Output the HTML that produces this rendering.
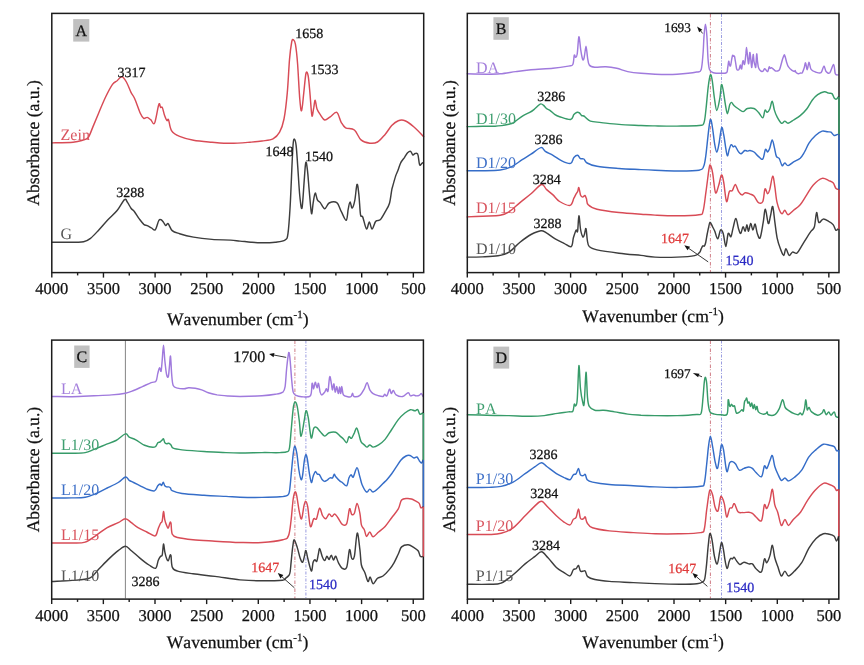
<!DOCTYPE html><html><head><meta charset="utf-8"><style>html,body{margin:0;padding:0;background:#fff;}svg{display:block;filter:blur(0.35px)}text{font-kerning:none;text-rendering:geometricPrecision}</style></head><body>
<svg width="864" height="665" viewBox="0 0 864 665" font-family="'Liberation Serif', 'Times New Roman', serif">
<rect width="864" height="665" fill="#fff"/>
<path d="M52.3,142.9 C55.8,142.8 68.1,142.6 73.1,142.2 C78.1,141.8 79.9,141.1 82.4,140.3 C84.9,139.5 86.5,139.7 88.2,137.5 C89.9,135.3 91.1,131.2 92.8,127.1 C94.5,123.0 96.5,118.2 98.6,113.2 C100.7,108.2 103.3,101.8 105.6,97.0 C107.9,92.2 110.6,87.0 112.5,84.3 C114.4,81.6 115.5,82.1 117.1,80.8 C118.6,79.5 120.2,76.5 121.8,76.7 C123.3,76.9 124.9,79.4 126.4,82.0 C127.9,84.6 129.7,89.7 131.0,92.4 C132.3,95.1 132.9,94.7 134.5,98.2 C136.1,101.7 138.8,109.9 140.3,113.2 C141.8,116.5 142.5,117.6 143.7,118.3 C144.8,119.0 146.0,117.2 147.2,117.4 C148.4,117.6 149.5,118.8 150.7,119.7 C151.9,120.6 153.2,125.5 154.6,123.0 C155.9,120.5 157.8,107.0 158.8,104.4 C159.8,101.8 160.0,107.0 160.6,107.5 C161.2,108.0 161.6,106.2 162.3,107.5 C163.0,108.8 163.8,113.4 164.6,115.6 C165.4,117.8 166.2,119.9 166.9,120.6 C167.6,121.3 167.7,118.0 168.5,119.7 C169.3,121.4 169.7,127.8 171.5,130.6 C173.3,133.4 175.9,134.8 179.6,136.4 C183.3,138.0 188.1,139.3 193.5,140.3 C198.9,141.3 205.8,141.7 212.0,142.2 C218.2,142.7 224.3,143.3 230.6,143.3 C236.9,143.3 244.8,142.6 250.0,142.2 C255.2,141.8 258.2,141.6 262.0,141.0 C265.8,140.4 270.1,140.3 273.0,138.8 C275.9,137.3 277.8,135.5 279.6,132.2 C281.4,128.9 282.7,125.6 284.0,119.0 C285.3,112.4 286.4,102.5 287.3,92.6 C288.2,82.7 288.8,68.0 289.5,59.6 C290.2,51.2 291.1,45.3 291.7,42.0 C292.3,38.7 292.8,39.4 293.4,39.8 C294.0,40.2 294.7,40.2 295.4,44.2 C296.1,48.2 296.9,54.8 297.6,64.0 C298.3,73.2 299.1,91.4 299.8,99.2 C300.5,107.0 300.9,111.7 301.6,110.6 C302.3,109.5 303.1,98.8 303.8,92.6 C304.5,86.4 305.3,76.0 306.0,73.2 C306.7,70.4 307.6,72.8 308.2,76.0 C308.8,79.2 309.3,86.0 309.9,92.6 C310.5,99.2 311.3,113.1 311.9,115.7 C312.5,118.3 313.1,110.6 313.7,108.0 C314.2,105.4 314.6,100.1 315.2,100.3 C315.8,100.5 316.1,106.6 317.0,109.0 C317.9,111.4 319.0,112.8 320.3,114.6 C321.6,116.4 323.1,119.6 324.7,120.0 C326.3,120.4 328.2,118.1 330.2,116.8 C332.2,115.5 335.0,111.5 336.8,112.4 C338.6,113.3 339.7,119.7 341.2,122.3 C342.7,124.9 343.4,126.5 345.6,127.8 C347.8,129.1 351.8,128.0 354.4,130.0 C357.0,132.0 358.4,137.7 361.0,139.9 C363.6,142.1 367.1,142.8 369.8,143.2 C372.6,143.5 374.9,143.5 377.5,142.0 C380.1,140.5 382.7,137.1 385.1,134.4 C387.5,131.7 389.5,127.9 391.7,125.6 C393.9,123.3 396.1,121.5 398.3,120.7 C400.5,119.9 402.4,119.7 405.0,120.7 C407.6,121.7 410.6,124.1 413.7,126.7 C416.8,129.3 422.0,134.9 423.6,136.6" fill="none" stroke="#d84b56" stroke-width="1.45" stroke-linejoin="round" stroke-linecap="round"/>
<path d="M52.3,242.2 C55.8,242.2 67.9,242.3 73.1,242.2 C78.3,242.1 80.7,242.5 83.6,241.8 C86.5,241.2 88.0,240.2 90.5,238.3 C93.0,236.4 95.7,233.3 98.6,230.2 C101.5,227.1 104.8,223.1 107.9,219.8 C111.0,216.5 114.3,213.9 117.1,210.5 C119.9,207.1 122.8,200.9 124.5,199.6 C126.2,198.2 126.4,201.0 127.5,202.4 C128.6,203.8 129.8,206.6 131.0,208.2 C132.2,209.8 133.2,210.0 134.5,211.7 C135.8,213.4 137.5,216.5 139.1,218.6 C140.7,220.7 142.5,223.2 143.8,224.4 C145.2,225.6 145.9,225.0 147.2,225.6 C148.5,226.2 150.1,227.2 151.4,227.9 C152.8,228.6 154.1,230.9 155.3,229.7 C156.5,228.5 157.8,222.2 158.8,220.5 C159.8,218.8 160.3,219.5 161.1,219.8 C161.9,220.1 162.6,221.1 163.4,222.1 C164.2,223.1 164.9,225.3 165.7,225.6 C166.5,225.9 167.0,222.9 168.1,223.7 C169.2,224.5 170.3,228.9 172.2,230.6 C174.1,232.3 176.0,232.6 179.6,233.7 C183.2,234.8 188.1,236.1 193.5,237.1 C198.9,238.1 205.8,238.9 212.0,239.4 C218.2,239.9 225.9,239.8 230.6,240.1 C235.3,240.4 236.6,240.8 240.0,241.1 C243.4,241.4 247.3,241.9 251.0,242.2 C254.7,242.5 258.0,242.8 262.0,242.8 C266.0,242.8 271.3,242.7 275.2,242.2 C279.1,241.7 283.0,241.5 285.1,240.0 C287.2,238.5 287.2,238.9 288.0,233.4 C288.8,227.9 289.4,218.7 290.1,207.0 C290.8,195.3 291.6,173.6 292.1,163.0 C292.6,152.4 292.8,147.2 293.2,143.2 C293.6,139.2 294.0,138.8 294.5,139.2 C295.0,139.6 295.6,140.7 296.1,145.4 C296.7,150.1 297.2,159.0 297.8,167.4 C298.4,175.8 299.1,189.2 299.8,196.0 C300.5,202.8 301.3,210.7 302.0,208.1 C302.7,205.5 303.6,188.2 304.2,180.6 C304.8,173.0 305.2,164.2 305.8,162.5 C306.4,160.8 306.9,165.8 307.5,170.7 C308.1,175.5 308.6,184.4 309.3,191.6 C310.0,198.8 310.9,211.8 311.5,213.6 C312.1,215.4 312.6,206.0 313.2,202.6 C313.8,199.2 314.5,193.5 315.2,193.1 C315.9,192.7 316.5,198.3 317.4,199.9 C318.2,201.5 319.1,201.1 320.3,202.6 C321.5,204.1 323.2,208.6 324.7,208.7 C326.2,208.8 327.1,204.0 329.1,203.0 C331.1,202.0 334.8,201.2 336.8,202.6 C338.8,204.0 339.6,208.5 341.2,211.4 C342.8,214.3 345.0,220.6 346.2,220.2 C347.4,219.8 347.6,212.2 348.2,209.2 C348.8,206.2 349.3,202.3 350.0,202.1 C350.7,201.9 351.4,208.4 352.2,208.1 C353.0,207.8 354.0,204.3 354.8,200.4 C355.6,196.5 356.3,185.6 357.0,184.5 C357.7,183.4 358.2,188.8 358.8,193.8 C359.4,198.8 359.9,210.8 360.5,214.7 C361.1,218.5 361.7,214.5 362.7,216.9 C363.7,219.3 365.4,228.2 366.5,229.0 C367.6,229.8 368.4,221.9 369.3,221.9 C370.2,221.9 371.0,229.0 372.0,229.0 C373.0,229.0 374.4,223.4 375.3,222.0 C376.2,220.6 376.3,221.0 377.2,220.6 C378.1,220.2 379.2,220.9 380.5,219.5 C381.8,218.1 383.5,214.9 385.0,212.2 C386.5,209.5 388.4,207.0 389.5,203.2 C390.6,199.4 391.2,192.5 391.8,189.6 C392.4,186.7 392.2,188.2 392.8,185.9 C393.4,183.7 394.8,178.6 395.6,176.1 C396.4,173.6 396.9,173.1 397.8,170.8 C398.7,168.6 399.7,164.8 400.8,162.6 C401.9,160.3 403.5,158.9 404.6,157.3 C405.7,155.7 406.6,153.8 407.6,152.8 C408.6,151.8 409.7,150.9 410.6,151.3 C411.5,151.7 412.1,154.6 412.9,155.0 C413.6,155.4 414.3,153.6 415.1,153.5 C415.9,153.4 417.1,152.4 417.8,154.3 C418.6,156.2 418.9,163.3 419.6,164.8 C420.3,166.3 421.3,163.7 421.9,163.3 C422.5,162.9 422.8,162.7 423.0,162.6" fill="none" stroke="#3d3d3d" stroke-width="1.45" stroke-linejoin="round" stroke-linecap="round"/>
<rect x="73.2" y="19.1" width="16.1" height="22.5" fill="#c0c0c0"/>
<text x="81.2" y="36.0" font-size="16" fill="#111" stroke="#111" stroke-width="0.25" text-anchor="middle">A</text>
<text x="60.6" y="139.8" font-size="16" fill="#d9545e" text-anchor="start">Zein</text>
<text x="60.4" y="239.4" font-size="16" fill="#555555" text-anchor="start">G</text>
<text x="117.4" y="77.4" font-size="14" fill="#111" stroke="#111" stroke-width="0.25" text-anchor="start">3317</text>
<text x="116.2" y="197.3" font-size="14" fill="#111" stroke="#111" stroke-width="0.25" text-anchor="start">3288</text>
<text x="295.2" y="37.6" font-size="14" fill="#111" stroke="#111" stroke-width="0.25" text-anchor="start">1658</text>
<text x="310.6" y="73.9" font-size="14" fill="#111" stroke="#111" stroke-width="0.25" text-anchor="start">1533</text>
<text x="265.5" y="155.6" font-size="14" fill="#111" stroke="#111" stroke-width="0.25" text-anchor="start">1648</text>
<text x="305.1" y="160.8" font-size="14" fill="#111" stroke="#111" stroke-width="0.25" text-anchor="start">1540</text>
<rect x="51.8" y="13.4" width="371.90" height="259.20" fill="none" stroke="#1c1c1c" stroke-width="1.5"/>
<line x1="51.80" y1="272.6" x2="51.80" y2="277.6" stroke="#1c1c1c" stroke-width="1.4"/>
<text x="51.80" y="294.2" font-size="16.5" fill="#111" stroke="#111" stroke-width="0.25" text-anchor="middle">4000</text>
<line x1="77.62" y1="272.6" x2="77.62" y2="275.40000000000003" stroke="#1c1c1c" stroke-width="1.4"/>
<line x1="103.45" y1="272.6" x2="103.45" y2="277.6" stroke="#1c1c1c" stroke-width="1.4"/>
<text x="103.45" y="294.2" font-size="16.5" fill="#111" stroke="#111" stroke-width="0.25" text-anchor="middle">3500</text>
<line x1="129.28" y1="272.6" x2="129.28" y2="275.40000000000003" stroke="#1c1c1c" stroke-width="1.4"/>
<line x1="155.10" y1="272.6" x2="155.10" y2="277.6" stroke="#1c1c1c" stroke-width="1.4"/>
<text x="155.10" y="294.2" font-size="16.5" fill="#111" stroke="#111" stroke-width="0.25" text-anchor="middle">3000</text>
<line x1="180.93" y1="272.6" x2="180.93" y2="275.40000000000003" stroke="#1c1c1c" stroke-width="1.4"/>
<line x1="206.75" y1="272.6" x2="206.75" y2="277.6" stroke="#1c1c1c" stroke-width="1.4"/>
<text x="206.75" y="294.2" font-size="16.5" fill="#111" stroke="#111" stroke-width="0.25" text-anchor="middle">2500</text>
<line x1="232.57" y1="272.6" x2="232.57" y2="275.40000000000003" stroke="#1c1c1c" stroke-width="1.4"/>
<line x1="258.40" y1="272.6" x2="258.40" y2="277.6" stroke="#1c1c1c" stroke-width="1.4"/>
<text x="258.40" y="294.2" font-size="16.5" fill="#111" stroke="#111" stroke-width="0.25" text-anchor="middle">2000</text>
<line x1="284.23" y1="272.6" x2="284.23" y2="275.40000000000003" stroke="#1c1c1c" stroke-width="1.4"/>
<line x1="310.05" y1="272.6" x2="310.05" y2="277.6" stroke="#1c1c1c" stroke-width="1.4"/>
<text x="310.05" y="294.2" font-size="16.5" fill="#111" stroke="#111" stroke-width="0.25" text-anchor="middle">1500</text>
<line x1="335.88" y1="272.6" x2="335.88" y2="275.40000000000003" stroke="#1c1c1c" stroke-width="1.4"/>
<line x1="361.70" y1="272.6" x2="361.70" y2="277.6" stroke="#1c1c1c" stroke-width="1.4"/>
<text x="361.70" y="294.2" font-size="16.5" fill="#111" stroke="#111" stroke-width="0.25" text-anchor="middle">1000</text>
<line x1="387.53" y1="272.6" x2="387.53" y2="275.40000000000003" stroke="#1c1c1c" stroke-width="1.4"/>
<line x1="413.35" y1="272.6" x2="413.35" y2="277.6" stroke="#1c1c1c" stroke-width="1.4"/>
<text x="413.35" y="294.2" font-size="16.5" fill="#111" stroke="#111" stroke-width="0.25" text-anchor="middle">500</text>
<text x="237.8" y="324.6" font-size="17.6" fill="#111" stroke="#111" stroke-width="0.25" text-anchor="middle">Wavenumber (cm<tspan font-size="11" dy="-7">-1</tspan><tspan dy="7">)</tspan></text>
<text x="0" y="0" transform="translate(39.4,143.0) rotate(-90)" font-size="17.6" fill="#111" stroke="#111" stroke-width="0.25" text-anchor="middle">Absorbance (a.u.)</text>
<line x1="710.4" y1="14" x2="710.4" y2="272" stroke="#cf7d86" stroke-width="1.0" stroke-dasharray="3.5,1.3,0.9,2.3" opacity="1.0"/>
<line x1="721.5" y1="14" x2="721.5" y2="272" stroke="#8e92dc" stroke-width="0.9" stroke-dasharray="3,1.5,1,1.5" opacity="1.0"/>
<path d="M467.2,73.8 C470.5,73.9 481.5,74.2 487.0,74.2 C492.5,74.2 495.4,74.2 500.2,73.8 C505.0,73.4 510.5,72.3 515.6,71.6 C520.7,70.9 524.8,70.3 531.0,69.8 C537.2,69.2 546.8,68.9 553.0,68.3 C559.2,67.7 565.1,66.7 568.4,66.1 C571.7,65.5 571.8,66.3 572.8,64.5 C573.8,62.7 573.8,56.3 574.3,55.1 C574.8,53.9 575.1,57.5 575.6,57.3 C576.1,57.1 576.7,57.4 577.2,54.0 C577.8,50.6 578.3,37.5 578.9,36.8 C579.5,36.1 580.1,45.8 580.7,49.6 C581.3,53.4 582.1,58.2 582.7,59.5 C583.3,60.8 583.7,59.5 584.2,57.3 C584.8,55.1 585.5,46.3 586.0,46.3 C586.5,46.3 587.0,54.2 587.5,57.3 C588.0,60.4 588.1,63.4 589.3,65.0 C590.5,66.7 592.0,66.9 594.8,67.2 C597.5,67.5 602.1,66.5 605.8,66.7 C609.4,66.9 613.1,67.5 616.7,68.3 C620.4,69.1 623.7,70.8 627.7,71.6 C631.8,72.4 636.5,72.9 641.0,73.3 C645.5,73.7 649.0,74.0 655.0,74.2 C661.0,74.4 670.0,74.6 677.0,74.2 C684.0,73.8 692.8,72.8 696.8,72.0 C700.8,71.2 700.2,72.4 701.2,69.4 C702.2,66.4 702.5,59.5 703.0,54.0 C703.5,48.5 703.6,41.4 704.0,36.4 C704.4,31.4 704.9,24.3 705.4,24.3 C705.9,24.3 706.5,30.7 706.9,36.4 C707.3,42.1 707.6,52.9 708.0,58.4 C708.4,63.9 708.6,67.0 709.5,69.4 C710.4,71.8 711.4,72.1 713.3,72.7 C715.2,73.3 718.8,73.3 721.0,73.3 C723.2,73.3 725.5,73.5 726.6,72.6 C727.7,71.7 727.4,69.7 727.7,67.8 C728.1,65.9 728.4,61.9 728.7,61.3 C729.0,60.7 729.1,63.3 729.4,64.1 C729.7,64.9 730.1,66.7 730.5,65.9 C730.9,65.1 731.4,61.2 731.7,59.4 C732.1,57.6 732.3,55.8 732.6,55.3 C732.9,54.8 733.3,56.1 733.6,56.2 C733.9,56.4 734.2,55.4 734.5,56.2 C734.8,57.1 735.0,59.2 735.4,61.3 C735.8,63.4 736.2,67.2 736.6,68.7 C737.0,70.2 737.3,70.0 737.7,70.1 C738.1,70.2 738.7,70.0 739.1,69.2 C739.5,68.4 740.0,65.2 740.3,65.0 C740.6,64.8 740.8,67.2 741.0,67.8 C741.2,68.4 741.4,69.6 741.7,68.7 C742.0,67.8 742.3,63.5 742.6,62.2 C742.9,60.9 743.0,60.4 743.3,60.8 C743.6,61.2 743.9,64.3 744.2,64.5 C744.5,64.7 744.7,64.0 745.0,62.2 C745.3,60.4 745.6,56.4 745.9,53.9 C746.1,51.4 746.3,47.4 746.5,47.4 C746.7,47.4 747.0,51.2 747.3,53.9 C747.6,56.6 748.1,62.5 748.4,63.6 C748.7,64.7 748.9,62.2 749.1,60.4 C749.3,58.5 749.6,53.2 749.8,52.5 C750.0,51.8 750.3,54.4 750.5,56.2 C750.7,58.1 751.0,61.8 751.2,63.6 C751.4,65.5 751.6,68.0 751.8,67.3 C752.0,66.6 752.4,61.5 752.6,59.4 C752.9,57.2 753.1,54.1 753.3,54.4 C753.5,54.7 753.7,59.5 754.0,61.3 C754.3,63.1 754.6,64.1 754.9,65.0 C755.2,65.9 755.5,68.8 755.8,66.9 C756.1,65.1 756.4,54.8 756.7,53.9 C757.0,53.0 757.2,59.1 757.5,61.3 C757.8,63.5 758.0,65.5 758.3,66.9 C758.6,68.3 758.9,68.8 759.5,69.6 C760.1,70.4 761.2,71.3 761.8,71.5 C762.4,71.7 762.7,71.5 763.2,71.0 C763.7,70.5 764.1,68.9 764.6,68.7 C765.1,68.5 765.5,69.6 766.0,70.1 C766.5,70.6 767.3,72.0 767.8,71.5 C768.3,71.0 768.8,67.5 769.2,66.9 C769.6,66.4 769.7,68.1 770.1,68.2 C770.5,68.3 770.9,67.6 771.5,67.8 C772.1,68.0 773.2,69.1 773.9,69.6 C774.6,70.1 774.9,70.8 775.7,71.0 C776.5,71.2 777.8,71.0 778.5,70.6 C779.2,70.2 779.4,70.1 779.9,68.7 C780.4,67.3 781.2,64.0 781.7,62.2 C782.2,60.4 782.7,58.8 783.1,57.6 C783.5,56.4 783.9,54.8 784.3,54.8 C784.7,54.8 785.0,56.4 785.4,57.6 C785.8,58.8 786.2,60.9 786.6,62.2 C787.0,63.5 787.4,64.7 787.7,65.5 C788.0,66.3 788.1,66.4 788.5,66.9 C788.9,67.4 789.5,68.1 790.1,68.7 C790.8,69.3 791.6,70.1 792.4,70.6 C793.2,71.1 794.2,71.5 794.7,71.5 C795.2,71.5 794.9,70.4 795.1,70.6 C795.3,70.8 795.6,71.9 796.1,72.4 C796.6,72.9 797.7,73.7 798.4,73.8 C799.1,73.9 799.6,73.3 800.2,73.1 C800.9,72.9 801.6,73.5 802.3,72.7 C802.9,71.9 803.5,70.0 804.1,68.3 C804.7,66.6 805.1,62.5 805.6,62.8 C806.1,63.0 806.6,69.9 807.2,69.8 C807.8,69.7 808.4,62.2 809.0,62.1 C809.6,62.0 810.0,67.8 811.1,69.4 C812.2,71.1 813.9,71.5 815.5,72.0 C817.1,72.5 819.6,73.7 821.0,72.7 C822.4,71.7 823.0,66.3 823.9,66.1 C824.8,65.9 825.1,70.5 826.1,71.6 C827.1,72.7 828.5,73.9 829.8,72.7 C831.0,71.5 832.7,64.3 833.6,64.5 C834.5,64.7 834.6,72.1 835.3,73.8 C836.0,75.5 837.5,74.7 838.0,74.9" fill="none" stroke="#a07add" stroke-width="1.45" stroke-linejoin="round" stroke-linecap="round"/>
<path d="M467.2,126.6 C469.8,126.5 478.0,126.4 482.6,126.3 C487.2,126.2 491.8,126.3 495.0,126.2 C498.2,126.1 499.6,125.9 501.9,125.6 C504.2,125.3 506.9,124.7 508.9,124.2 C510.9,123.7 512.6,123.1 513.8,122.6 C514.9,122.0 514.3,122.0 515.8,120.9 C517.3,119.8 520.5,117.2 522.8,115.8 C525.1,114.4 527.9,113.4 529.7,112.4 C531.6,111.4 532.5,110.7 533.9,109.6 C535.3,108.5 536.9,106.8 538.0,105.8 C539.1,104.8 539.9,104.0 540.8,103.9 C541.7,103.8 542.7,104.6 543.6,105.4 C544.5,106.2 545.4,107.7 546.4,108.5 C547.4,109.3 548.5,109.3 549.9,110.3 C551.3,111.3 553.4,113.5 555.0,114.6 C556.6,115.7 557.0,115.9 559.6,116.7 C562.2,117.5 568.2,119.9 570.6,119.5 C573.0,119.1 572.8,115.7 573.9,114.5 C575.0,113.3 576.3,112.6 577.2,112.3 C578.1,112.0 578.7,112.4 579.4,112.9 C580.1,113.5 580.9,115.1 581.6,115.6 C582.3,116.1 583.1,115.6 583.8,116.0 C584.5,116.4 584.9,117.0 586.0,117.8 C587.1,118.6 587.8,120.3 590.4,121.1 C593.0,121.9 596.6,122.0 601.4,122.6 C606.2,123.1 612.4,123.9 619.0,124.4 C625.6,124.9 635.0,125.2 641.0,125.5 C647.0,125.8 649.0,125.8 655.0,125.9 C661.0,126.0 669.7,126.2 677.0,126.1 C684.3,126.0 694.5,126.0 699.0,125.5 C703.5,125.0 702.6,126.0 703.8,123.3 C705.0,120.5 705.3,115.0 706.0,109.0 C706.7,103.0 707.5,92.7 708.2,87.0 C708.9,81.3 709.7,76.0 710.4,74.9 C711.1,73.8 711.5,76.6 712.2,80.4 C712.9,84.2 713.6,93.0 714.4,98.0 C715.2,103.0 715.9,110.5 716.8,110.5 C717.7,110.5 719.1,102.3 719.9,98.0 C720.7,93.7 720.8,86.1 721.4,84.8 C722.0,83.5 722.5,87.0 723.2,90.3 C723.9,93.6 724.7,100.7 725.4,104.6 C726.1,108.5 726.7,113.7 727.4,113.7 C728.1,113.7 729.1,106.5 729.8,104.6 C730.5,102.7 730.8,102.2 731.5,102.4 C732.2,102.6 733.0,104.6 734.2,105.7 C735.4,106.8 737.1,108.0 738.6,109.0 C740.1,110.0 741.5,111.7 743.0,111.6 C744.5,111.5 745.6,109.0 747.4,108.5 C749.2,108.0 752.2,107.9 754.0,108.5 C755.8,109.1 756.9,110.8 758.4,112.3 C759.9,113.8 761.7,118.2 762.8,117.8 C763.9,117.4 764.3,111.0 765.0,110.1 C765.7,109.2 766.4,112.5 767.2,112.3 C768.0,112.1 769.0,110.8 769.8,109.0 C770.6,107.2 771.4,101.1 772.2,101.3 C773.0,101.5 773.6,107.5 774.4,110.1 C775.2,112.7 775.8,114.5 777.0,116.7 C778.2,118.9 780.2,122.6 781.5,123.3 C782.8,124.0 783.7,121.1 784.8,121.1 C785.9,121.1 786.6,123.5 788.1,123.3 C789.6,123.1 791.6,121.3 793.6,120.0 C795.6,118.7 798.0,117.4 800.2,115.6 C802.4,113.8 804.7,111.6 806.7,109.0 C808.7,106.4 810.4,102.6 812.2,100.2 C814.0,97.8 815.7,96.1 817.7,94.7 C819.7,93.3 822.5,92.1 824.3,91.8 C826.1,91.5 827.4,92.8 828.7,93.1 C830.0,93.4 831.1,92.8 832.0,93.6 C832.9,94.4 833.5,97.1 834.2,98.0 C834.9,98.9 835.7,99.3 836.4,99.1 C837.1,98.9 837.9,97.3 838.2,96.9" fill="none" stroke="#379b69" stroke-width="1.45" stroke-linejoin="round" stroke-linecap="round"/>
<path d="M467.2,170.7 C469.8,170.7 477.1,170.8 482.6,170.7 C488.1,170.6 495.4,170.6 500.2,170.0 C505.0,169.4 507.5,168.6 511.2,166.9 C514.9,165.2 518.9,161.8 522.2,159.7 C525.5,157.6 527.9,156.2 531.0,154.2 C534.1,152.2 538.5,148.1 540.9,147.6 C543.3,147.1 543.3,150.0 545.3,151.3 C547.3,152.6 550.2,153.7 553.0,155.3 C555.8,156.9 558.9,159.5 561.8,160.8 C564.7,162.2 568.6,164.0 570.6,163.4 C572.6,162.8 572.7,158.8 573.9,157.5 C575.1,156.2 576.5,155.1 577.6,155.3 C578.7,155.5 579.5,158.0 580.5,158.6 C581.5,159.2 582.7,158.3 583.8,159.0 C584.9,159.7 584.9,161.8 587.1,163.0 C589.3,164.2 591.7,165.4 597.0,166.3 C602.3,167.2 611.7,167.9 619.0,168.5 C626.3,169.1 635.0,169.3 641.0,169.6 C647.0,169.9 649.0,170.0 655.0,170.2 C661.0,170.4 669.7,170.9 677.0,170.9 C684.3,170.9 694.5,171.0 699.0,170.2 C703.5,169.4 702.6,168.7 703.7,166.3 C704.8,163.9 705.1,160.7 705.8,155.8 C706.5,150.9 707.2,142.8 707.9,136.8 C708.6,130.8 709.5,121.9 710.2,120.0 C710.9,118.1 711.4,121.3 712.1,125.3 C712.9,129.3 713.9,139.7 714.7,144.2 C715.5,148.7 716.1,152.1 716.8,152.1 C717.5,152.1 718.1,148.2 718.9,144.2 C719.7,140.2 720.8,129.5 721.6,127.9 C722.4,126.3 723.0,131.3 723.7,134.7 C724.4,138.1 725.2,144.9 725.8,148.4 C726.4,151.9 726.8,155.6 727.4,155.8 C728.0,156.0 728.6,151.3 729.2,149.5 C729.8,147.7 730.4,145.1 731.1,144.7 C731.8,144.2 732.5,146.5 733.2,146.8 C733.9,147.1 734.4,145.5 735.3,146.3 C736.2,147.1 737.4,150.4 738.4,151.6 C739.4,152.8 740.0,153.9 741.1,153.7 C742.2,153.5 743.7,150.9 744.7,150.5 C745.8,150.1 746.5,151.1 747.4,151.1 C748.3,151.1 748.9,150.3 750.0,150.5 C751.1,150.7 752.6,151.0 754.0,152.0 C755.4,153.0 756.9,155.2 758.4,156.4 C759.9,157.6 761.6,160.2 762.8,159.0 C764.0,157.8 764.6,150.6 765.4,149.4 C766.2,148.2 766.9,152.2 767.6,152.0 C768.3,151.8 769.0,150.0 769.8,148.0 C770.6,146.0 771.4,140.0 772.2,139.9 C773.0,139.8 773.7,144.8 774.4,147.6 C775.1,150.3 775.6,154.6 776.4,156.4 C777.2,158.2 778.3,157.1 779.3,158.6 C780.2,160.1 781.2,164.9 782.1,165.6 C783.0,166.3 783.8,163.0 784.8,163.0 C785.8,163.0 786.6,165.8 788.1,165.6 C789.6,165.4 791.6,163.1 793.6,161.9 C795.6,160.7 798.4,159.8 800.2,158.2 C802.0,156.5 803.0,154.5 804.5,152.0 C806.0,149.5 807.2,145.9 809.0,143.2 C810.8,140.4 813.3,137.5 815.5,135.5 C817.7,133.5 820.1,131.7 822.1,131.1 C824.1,130.5 826.1,131.6 827.6,131.8 C829.1,132.0 829.9,131.6 831.0,132.2 C832.1,132.8 833.1,135.1 834.2,135.5 C835.3,135.9 837.0,134.6 837.5,134.4" fill="none" stroke="#356dc8" stroke-width="1.45" stroke-linejoin="round" stroke-linecap="round"/>
<path d="M467.2,216.9 C469.8,216.8 477.1,216.5 482.6,216.2 C488.1,215.9 495.8,216.0 500.2,215.3 C504.6,214.6 505.7,213.9 509.0,211.8 C512.3,209.7 516.3,205.6 520.0,202.6 C523.7,199.6 527.4,196.8 531.0,193.8 C534.6,190.8 538.9,185.2 541.5,184.5 C544.1,183.8 544.5,187.7 546.4,189.4 C548.3,191.1 550.8,192.9 553.0,194.9 C555.2,196.9 556.8,199.8 559.6,201.5 C562.5,203.2 567.7,206.0 570.1,205.4 C572.5,204.8 572.9,200.1 573.9,198.2 C574.9,196.3 575.5,194.9 576.1,193.8 C576.7,192.7 577.1,192.6 577.6,191.6 C578.1,190.6 578.4,187.0 578.9,187.6 C579.4,188.2 579.9,193.3 580.5,194.9 C581.1,196.5 582.0,197.0 582.7,197.1 C583.4,197.2 584.3,195.2 584.9,195.5 C585.5,195.8 585.8,197.0 586.4,198.6 C587.0,200.2 586.4,203.0 588.2,204.8 C590.0,206.6 591.9,207.9 597.0,209.2 C602.1,210.5 611.7,211.7 619.0,212.5 C626.3,213.3 635.0,213.8 641.0,214.2 C647.0,214.6 649.0,214.8 655.0,215.1 C661.0,215.4 669.7,215.9 677.0,215.8 C684.3,215.7 694.7,215.4 699.0,214.7 C703.3,214.0 701.8,215.2 703.0,211.4 C704.2,207.6 705.0,198.6 706.0,191.6 C707.0,184.6 708.2,174.0 708.9,169.6 C709.6,165.2 709.8,164.6 710.4,165.2 C711.0,165.8 711.8,168.3 712.6,172.9 C713.5,177.5 714.5,190.7 715.5,192.7 C716.5,194.7 717.8,187.9 718.8,185.0 C719.8,182.1 720.6,175.7 721.4,175.1 C722.2,174.5 722.8,177.3 723.6,181.7 C724.5,186.1 725.5,199.8 726.5,201.5 C727.5,203.2 728.3,193.4 729.3,191.6 C730.3,189.8 731.4,191.7 732.4,190.5 C733.4,189.3 734.3,184.3 735.3,184.5 C736.3,184.7 737.5,189.9 738.6,191.6 C739.7,193.3 740.8,194.7 741.9,194.9 C743.0,195.1 743.9,192.9 745.2,192.7 C746.5,192.5 748.1,193.2 749.6,193.8 C751.1,194.4 752.5,194.5 754.0,196.0 C755.5,197.5 756.9,201.7 758.4,202.6 C759.9,203.5 761.7,203.8 762.8,201.5 C763.9,199.2 764.2,190.2 765.0,188.9 C765.8,187.6 766.8,193.7 767.6,193.8 C768.4,193.9 768.9,192.3 769.8,189.4 C770.6,186.5 771.9,176.6 772.7,176.2 C773.6,175.8 774.2,182.8 774.9,187.2 C775.6,191.6 776.0,198.2 777.1,202.6 C778.2,207.0 780.2,212.3 781.5,213.6 C782.8,214.9 783.7,210.1 784.8,210.3 C785.9,210.5 786.6,214.7 788.1,214.7 C789.6,214.7 791.6,212.0 793.6,210.3 C795.6,208.7 798.0,207.4 800.2,204.8 C802.4,202.2 804.5,198.2 806.7,194.9 C808.9,191.6 810.7,187.8 813.3,185.0 C815.9,182.2 819.5,179.1 822.1,178.4 C824.7,177.7 826.9,179.9 828.7,180.6 C830.5,181.3 831.9,181.5 833.1,182.8 C834.3,184.1 835.0,187.2 835.8,188.3 C836.6,189.4 837.6,189.2 838.0,189.4" fill="none" stroke="#d84b56" stroke-width="1.45" stroke-linejoin="round" stroke-linecap="round"/>
<path d="M467.2,257.1 C469.8,257.1 477.5,257.1 482.6,256.9 C487.7,256.7 493.6,256.6 498.0,255.8 C502.4,255.0 505.3,254.4 509.0,252.1 C512.7,249.8 516.3,245.1 520.0,242.2 C523.7,239.3 527.5,236.4 531.0,234.5 C534.5,232.6 538.3,231.0 540.9,230.7 C543.5,230.4 544.0,231.5 546.4,232.9 C548.8,234.3 552.3,237.2 555.2,238.9 C558.1,240.6 561.3,242.0 564.0,243.3 C566.7,244.6 569.6,247.5 571.2,246.6 C572.8,245.7 572.6,240.6 573.4,237.8 C574.2,235.1 575.4,231.2 576.1,230.1 C576.8,229.0 577.1,233.6 577.6,231.2 C578.1,228.8 578.4,216.2 578.9,215.8 C579.4,215.4 579.9,225.5 580.5,229.0 C581.1,232.5 582.1,235.8 582.7,236.7 C583.4,237.6 583.9,235.9 584.4,234.5 C584.9,233.1 585.5,227.6 586.0,228.5 C586.5,229.4 586.8,237.0 587.3,240.0 C587.8,243.0 587.7,244.9 589.3,246.6 C590.9,248.2 592.0,248.8 597.0,249.9 C602.0,251.0 611.7,252.3 619.0,253.2 C626.3,254.1 635.0,254.8 641.0,255.4 C647.0,256.1 649.0,256.8 655.0,257.1 C661.0,257.4 670.4,257.4 677.0,257.1 C683.6,256.9 691.0,256.4 694.7,255.6 C698.4,254.8 698.3,253.7 699.4,252.6 C700.5,251.5 700.5,250.3 701.1,249.2 C701.7,248.1 702.2,246.4 702.8,245.9 C703.3,245.4 703.9,246.7 704.4,246.1 C704.9,245.5 705.2,244.6 705.7,242.5 C706.2,240.4 706.8,236.0 707.3,233.5 C707.8,231.0 708.1,229.4 708.6,227.5 C709.1,225.6 709.3,222.3 710.0,222.2 C710.7,222.1 711.8,225.3 712.6,226.8 C713.4,228.3 713.9,229.2 714.8,231.2 C715.6,233.2 716.8,239.1 717.7,238.9 C718.7,238.7 719.6,231.0 720.5,230.1 C721.4,229.2 722.3,230.7 723.2,233.4 C724.1,236.2 725.0,246.6 725.8,246.6 C726.6,246.6 727.4,235.1 728.2,233.4 C729.1,231.8 730.1,237.6 730.9,236.7 C731.7,235.8 732.3,230.9 733.1,227.9 C733.9,224.9 735.0,218.2 735.9,218.4 C736.8,218.6 737.8,226.5 738.6,229.0 C739.4,231.5 740.1,233.8 740.8,233.4 C741.5,233.0 742.3,227.2 743.0,226.8 C743.7,226.4 744.6,231.6 745.2,231.2 C745.9,230.8 746.4,224.6 746.9,224.6 C747.4,224.6 747.9,231.4 748.5,231.2 C749.1,231.0 750.0,223.7 750.7,223.5 C751.4,223.3 752.2,230.0 752.9,230.1 C753.6,230.2 754.4,223.5 755.1,224.1 C755.8,224.7 756.5,231.1 757.3,233.4 C758.1,235.7 759.1,239.6 760.1,237.8 C761.1,236.0 762.3,227.2 763.2,222.4 C764.1,217.6 764.5,209.0 765.4,209.2 C766.2,209.4 767.4,222.4 768.3,223.5 C769.1,224.6 769.8,218.6 770.5,215.8 C771.2,213.0 772.0,205.4 772.7,206.5 C773.4,207.6 774.2,217.2 774.9,222.4 C775.6,227.6 776.2,233.4 777.1,237.8 C778.0,242.2 779.3,245.9 780.4,248.8 C781.5,251.7 782.8,255.4 783.7,255.4 C784.6,255.4 785.0,248.8 785.9,248.8 C786.8,248.8 788.1,254.9 789.2,255.4 C790.3,255.9 791.2,252.5 792.5,252.1 C793.8,251.7 795.4,254.1 796.9,253.2 C798.4,252.3 799.7,249.2 801.3,246.6 C802.9,244.0 805.1,240.4 806.7,237.8 C808.3,235.2 809.8,233.0 811.1,231.2 C812.4,229.4 813.5,229.9 814.4,226.8 C815.3,223.7 815.9,213.2 816.6,212.5 C817.3,211.8 817.7,221.3 818.8,222.4 C819.9,223.5 821.6,219.3 823.2,219.1 C824.9,218.9 827.1,220.4 828.7,221.3 C830.4,222.2 831.9,223.1 833.1,224.6 C834.3,226.1 835.0,229.4 835.8,230.1 C836.6,230.8 837.6,229.2 838.0,229.0" fill="none" stroke="#3d3d3d" stroke-width="1.45" stroke-linejoin="round" stroke-linecap="round"/>
<rect x="493.4" y="17.2" width="15.4" height="22.6" fill="#c0c0c0"/>
<text x="501.1" y="34.1" font-size="16" fill="#111" stroke="#111" stroke-width="0.25" text-anchor="middle">B</text>
<text x="476" y="72.7" font-size="16" fill="#a47fdc" text-anchor="start">DA</text>
<text x="476" y="124.0" font-size="16" fill="#3f9f70" text-anchor="start">D1/30</text>
<text x="476" y="167.8" font-size="16" fill="#3e70c8" text-anchor="start">D1/20</text>
<text x="476" y="213.1" font-size="16" fill="#d9545e" text-anchor="start">D1/15</text>
<text x="476" y="254.3" font-size="16" fill="#555555" text-anchor="start">D1/10</text>
<text x="537.3" y="100.6" font-size="14" fill="#111" stroke="#111" stroke-width="0.25" text-anchor="start">3286</text>
<text x="534.5" y="144.3" font-size="14" fill="#111" stroke="#111" stroke-width="0.25" text-anchor="start">3286</text>
<text x="532.7" y="183.9" font-size="14" fill="#111" stroke="#111" stroke-width="0.25" text-anchor="start">3284</text>
<text x="533.4" y="228.3" font-size="14" fill="#111" stroke="#111" stroke-width="0.25" text-anchor="start">3288</text>
<text x="664.3" y="32.0" font-size="13.3" fill="#111" stroke="#111" stroke-width="0.25" text-anchor="start">1693</text>
<line x1="700.72" y1="31.03" x2="702.70" y2="33.50" stroke="#222" stroke-width="0.9"/>
<polygon points="697.10,26.50 699.16,32.28 702.28,29.78" fill="#111"/>
<text x="661.1" y="242.6" font-size="14" fill="#e03c3c" stroke="#e03c3c" stroke-width="0.25" text-anchor="start">1647</text>
<text x="725.6" y="264.6" font-size="14" fill="#2b2bc4" stroke="#2b2bc4" stroke-width="0.25" text-anchor="start">1540</text>
<line x1="688.82" y1="248.44" x2="708.20" y2="261.90" stroke="#222" stroke-width="0.9"/>
<polygon points="684.30,245.30 687.56,250.24 690.07,246.63" fill="#111"/>
<rect x="467.3" y="13.4" width="371.70" height="259.20" fill="none" stroke="#1c1c1c" stroke-width="1.5"/>
<line x1="467.30" y1="272.6" x2="467.30" y2="277.6" stroke="#1c1c1c" stroke-width="1.4"/>
<text x="467.30" y="294.2" font-size="16.5" fill="#111" stroke="#111" stroke-width="0.25" text-anchor="middle">4000</text>
<line x1="493.12" y1="272.6" x2="493.12" y2="275.40000000000003" stroke="#1c1c1c" stroke-width="1.4"/>
<line x1="518.95" y1="272.6" x2="518.95" y2="277.6" stroke="#1c1c1c" stroke-width="1.4"/>
<text x="518.95" y="294.2" font-size="16.5" fill="#111" stroke="#111" stroke-width="0.25" text-anchor="middle">3500</text>
<line x1="544.77" y1="272.6" x2="544.77" y2="275.40000000000003" stroke="#1c1c1c" stroke-width="1.4"/>
<line x1="570.60" y1="272.6" x2="570.60" y2="277.6" stroke="#1c1c1c" stroke-width="1.4"/>
<text x="570.60" y="294.2" font-size="16.5" fill="#111" stroke="#111" stroke-width="0.25" text-anchor="middle">3000</text>
<line x1="596.42" y1="272.6" x2="596.42" y2="275.40000000000003" stroke="#1c1c1c" stroke-width="1.4"/>
<line x1="622.25" y1="272.6" x2="622.25" y2="277.6" stroke="#1c1c1c" stroke-width="1.4"/>
<text x="622.25" y="294.2" font-size="16.5" fill="#111" stroke="#111" stroke-width="0.25" text-anchor="middle">2500</text>
<line x1="648.08" y1="272.6" x2="648.08" y2="275.40000000000003" stroke="#1c1c1c" stroke-width="1.4"/>
<line x1="673.90" y1="272.6" x2="673.90" y2="277.6" stroke="#1c1c1c" stroke-width="1.4"/>
<text x="673.90" y="294.2" font-size="16.5" fill="#111" stroke="#111" stroke-width="0.25" text-anchor="middle">2000</text>
<line x1="699.73" y1="272.6" x2="699.73" y2="275.40000000000003" stroke="#1c1c1c" stroke-width="1.4"/>
<line x1="725.55" y1="272.6" x2="725.55" y2="277.6" stroke="#1c1c1c" stroke-width="1.4"/>
<text x="725.55" y="294.2" font-size="16.5" fill="#111" stroke="#111" stroke-width="0.25" text-anchor="middle">1500</text>
<line x1="751.38" y1="272.6" x2="751.38" y2="275.40000000000003" stroke="#1c1c1c" stroke-width="1.4"/>
<line x1="777.20" y1="272.6" x2="777.20" y2="277.6" stroke="#1c1c1c" stroke-width="1.4"/>
<text x="777.20" y="294.2" font-size="16.5" fill="#111" stroke="#111" stroke-width="0.25" text-anchor="middle">1000</text>
<line x1="803.03" y1="272.6" x2="803.03" y2="275.40000000000003" stroke="#1c1c1c" stroke-width="1.4"/>
<line x1="828.85" y1="272.6" x2="828.85" y2="277.6" stroke="#1c1c1c" stroke-width="1.4"/>
<text x="828.85" y="294.2" font-size="16.5" fill="#111" stroke="#111" stroke-width="0.25" text-anchor="middle">500</text>
<text x="653.1" y="322.4" font-size="17.6" fill="#111" stroke="#111" stroke-width="0.25" text-anchor="middle">Wavenumber (cm<tspan font-size="11" dy="-7">-1</tspan><tspan dy="7">)</tspan></text>
<text x="0" y="0" transform="translate(454.9,143.0) rotate(-90)" font-size="17.6" fill="#111" stroke="#111" stroke-width="0.25" text-anchor="middle">Absorbance (a.u.)</text>
<line x1="839.0" y1="96.9" x2="839.0" y2="134.4" stroke="#379b69" stroke-width="1.5"/>
<line x1="839.0" y1="134.4" x2="839.0" y2="189.4" stroke="#356dc8" stroke-width="1.5"/>
<line x1="839.0" y1="189.4" x2="839.0" y2="229.0" stroke="#d84b56" stroke-width="1.5"/>
<line x1="125.4" y1="340.5" x2="125.4" y2="598.5" stroke="#777" stroke-width="0.9" stroke-dasharray="" opacity="1.0"/>
<line x1="294.9" y1="340.5" x2="294.9" y2="598.5" stroke="#cf7d86" stroke-width="1.0" stroke-dasharray="3.5,1.3,0.9,2.3" opacity="1.0"/>
<line x1="305.9" y1="340.5" x2="305.9" y2="598.5" stroke="#8e92dc" stroke-width="0.9" stroke-dasharray="3,1.5,1,1.5" opacity="1.0"/>
<path d="M52.2,396.5 C55.5,396.5 65.0,396.8 72.0,396.7 C79.0,396.6 87.4,396.1 94.0,395.8 C100.6,395.5 106.4,395.3 111.6,394.9 C116.8,394.5 121.7,393.9 125.4,393.2 C129.1,392.5 130.8,391.6 133.6,390.5 C136.4,389.4 139.5,387.9 142.4,386.6 C145.3,385.3 148.9,383.5 151.2,382.6 C153.5,381.7 154.9,382.6 156.0,381.1 C157.1,379.6 157.2,375.6 157.8,373.4 C158.4,371.2 158.9,368.3 159.5,367.9 C160.1,367.5 160.7,372.5 161.1,371.2 C161.5,369.9 161.8,364.5 162.2,360.2 C162.6,355.9 163.1,345.2 163.5,345.2 C163.9,345.2 164.3,355.3 164.8,360.2 C165.3,365.1 166.0,371.8 166.6,374.5 C167.2,377.2 167.8,378.0 168.3,376.7 C168.8,375.4 169.0,370.2 169.4,366.8 C169.8,363.4 170.1,355.1 170.5,356.2 C170.9,357.3 171.2,368.5 171.6,373.4 C172.0,378.3 172.2,383.1 173.2,385.5 C174.2,387.9 175.8,387.6 177.6,388.1 C179.4,388.7 182.4,388.9 184.2,388.8 C186.0,388.7 186.8,387.8 188.6,387.7 C190.4,387.6 193.0,387.9 195.2,388.3 C197.4,388.7 199.5,389.2 201.7,389.9 C203.9,390.6 205.7,391.9 208.3,392.7 C210.9,393.5 213.8,394.3 217.1,394.9 C220.4,395.4 224.3,395.7 228.1,396.0 C231.9,396.3 234.3,396.5 240.0,396.5 C245.7,396.5 256.1,396.2 262.0,395.8 C267.9,395.4 271.7,394.9 275.2,394.3 C278.7,393.7 281.2,393.4 282.9,392.1 C284.5,390.8 284.5,390.5 285.1,386.6 C285.7,382.8 286.1,373.9 286.6,369.0 C287.1,364.1 287.6,359.6 288.0,356.9 C288.4,354.1 288.6,351.9 289.0,352.5 C289.4,353.1 289.7,355.6 290.1,360.2 C290.6,364.8 291.2,374.7 291.7,380.0 C292.2,385.3 292.5,389.5 293.2,392.1 C293.9,394.7 294.7,394.6 296.1,395.4 C297.5,396.2 299.2,396.6 301.6,396.7 C304.0,396.8 308.6,398.0 310.4,395.8 C312.1,393.6 311.6,384.5 312.1,383.3 C312.7,382.1 313.2,389.0 313.7,388.8 C314.2,388.6 314.6,382.4 315.2,382.2 C315.8,382.0 316.4,387.5 317.0,387.7 C317.6,387.9 318.0,382.6 318.5,383.3 C319.0,384.0 319.6,390.2 320.1,392.1 C320.7,394.0 321.0,394.9 321.8,394.9 C322.6,394.9 323.9,393.1 324.7,392.1 C325.5,391.1 325.8,389.0 326.4,388.8 C326.9,388.6 327.4,393.0 328.0,391.0 C328.6,389.0 329.1,378.0 329.7,376.7 C330.2,375.4 330.9,381.1 331.3,383.3 C331.8,385.5 332.0,389.8 332.4,389.9 C332.8,390.0 333.4,383.5 333.9,383.9 C334.4,384.3 334.7,391.7 335.2,392.1 C335.7,392.6 336.3,386.4 336.8,386.6 C337.3,386.9 337.8,393.5 338.3,393.6 C338.8,393.7 339.2,387.0 339.6,387.0 C340.0,387.0 340.3,393.7 340.7,393.6 C341.1,393.5 341.4,386.4 341.8,386.6 C342.2,386.8 342.4,393.2 343.4,394.9 C344.4,396.6 346.5,396.4 347.8,396.7 C349.1,397.0 350.3,397.1 351.1,396.5 C351.9,395.9 352.1,393.2 352.6,393.2 C353.1,393.2 352.7,396.1 353.9,396.5 C355.1,396.9 358.2,396.7 359.9,395.4 C361.6,394.1 363.1,390.9 364.3,388.8 C365.5,386.7 366.2,382.4 367.1,382.6 C368.0,382.8 368.8,388.1 369.8,389.9 C370.8,391.7 371.6,392.6 373.1,393.6 C374.6,394.6 377.0,395.3 378.6,395.8 C380.2,396.3 382.0,396.8 383.0,396.5 C384.0,396.2 384.1,394.4 384.7,394.3 C385.3,394.2 386.1,396.7 386.9,395.8 C387.7,394.9 388.8,389.6 389.5,389.2 C390.2,388.8 390.7,393.4 391.3,393.6 C391.9,393.8 392.5,390.3 393.3,390.5 C394.1,390.7 394.5,393.9 396.1,394.9 C397.7,395.9 400.7,396.9 402.7,396.5 C404.7,396.1 406.9,392.8 408.2,392.7 C409.5,392.6 409.5,395.4 410.4,395.8 C411.3,396.2 412.8,394.9 413.7,394.9 C414.6,394.9 415.0,395.7 415.9,395.8 C416.8,395.9 418.3,395.8 419.2,395.4 C420.1,395.0 420.8,393.4 421.4,393.6 C422.0,393.8 422.7,396.0 423.0,396.5" fill="none" stroke="#a07add" stroke-width="1.45" stroke-linejoin="round" stroke-linecap="round"/>
<path d="M52.2,453.2 C55.5,453.2 66.5,453.3 72.0,453.2 C77.5,453.1 81.5,453.2 85.2,452.6 C88.9,452.0 90.7,450.6 94.0,449.3 C97.3,448.0 101.3,446.4 105.0,444.9 C108.7,443.4 112.6,442.3 116.0,440.5 C119.4,438.7 123.2,434.4 125.4,433.9 C127.6,433.3 127.5,436.2 129.2,437.2 C130.9,438.2 133.2,438.4 135.8,439.8 C138.4,441.2 141.5,444.1 144.6,445.3 C147.7,446.5 152.3,447.5 154.5,447.1 C156.7,446.7 156.9,443.6 157.8,442.7 C158.7,441.8 159.3,442.4 160.0,442.0 C160.7,441.6 161.1,441.0 161.7,440.5 C162.3,440.0 163.0,438.5 163.5,438.9 C164.0,439.3 164.3,441.9 164.8,442.7 C165.3,443.5 165.9,443.7 166.6,443.8 C167.3,443.9 168.1,443.1 168.8,443.3 C169.5,443.5 170.3,444.1 171.0,444.9 C171.7,445.7 171.4,447.4 173.2,448.2 C175.0,449.0 176.9,449.3 182.0,449.9 C187.1,450.4 196.7,451.1 204.0,451.5 C211.3,451.9 220.0,452.4 226.0,452.6 C232.0,452.9 234.0,453.0 240.0,453.0 C246.0,453.0 255.3,452.7 262.0,452.6 C268.7,452.5 275.8,452.8 280.0,452.6 C284.2,452.4 285.8,452.4 287.4,451.6 C289.0,450.8 288.9,451.5 289.5,447.9 C290.1,444.3 290.6,436.6 291.2,430.0 C291.8,423.4 292.6,413.3 293.2,408.6 C293.8,403.9 294.3,402.4 295.0,402.0 C295.7,401.6 296.5,403.1 297.2,406.4 C297.9,409.7 298.8,416.8 299.4,421.8 C300.0,426.8 300.3,436.5 301.1,436.3 C301.9,436.1 303.4,424.9 304.2,420.7 C305.0,416.4 305.3,411.4 306.0,410.8 C306.7,410.2 307.3,412.9 308.2,417.4 C309.1,421.9 310.3,436.1 311.2,437.9 C312.1,439.7 312.8,430.2 313.7,428.4 C314.6,426.6 315.4,426.8 316.5,427.3 C317.6,427.9 318.9,430.2 320.3,431.7 C321.7,433.2 323.2,435.9 324.7,436.1 C326.2,436.3 327.3,433.4 329.1,432.8 C330.9,432.2 333.9,431.8 335.7,432.3 C337.5,432.9 338.8,435.0 340.1,436.1 C341.4,437.2 342.3,437.8 343.4,438.9 C344.5,440.0 345.8,443.1 346.7,442.7 C347.6,442.3 348.1,437.4 348.9,436.7 C349.7,436.0 350.6,438.9 351.5,438.3 C352.4,437.7 353.5,434.5 354.4,432.8 C355.2,431.1 355.9,427.7 356.6,427.9 C357.3,428.1 358.1,431.6 358.8,433.9 C359.5,436.2 360.1,439.8 361.0,441.6 C361.9,443.4 363.3,444.0 364.3,444.9 C365.3,445.8 366.2,447.1 367.1,447.1 C368.0,447.1 368.8,444.9 369.8,444.9 C370.8,444.9 371.6,447.1 373.1,447.1 C374.6,447.1 376.6,446.2 378.6,444.9 C380.6,443.6 382.9,442.0 385.1,439.4 C387.3,436.8 389.5,432.8 391.7,429.5 C393.9,426.2 396.1,422.4 398.3,419.6 C400.5,416.9 402.9,414.6 404.9,413.0 C406.9,411.4 408.8,410.1 410.4,409.7 C412.0,409.3 413.6,410.8 414.8,410.8 C416.0,410.8 416.9,409.1 417.7,409.7 C418.5,410.2 419.1,413.6 419.9,414.1 C420.7,414.7 422.1,413.2 422.5,413.0" fill="none" stroke="#379b69" stroke-width="1.45" stroke-linejoin="round" stroke-linecap="round"/>
<path d="M52.2,497.9 C55.5,497.9 66.5,498.0 72.0,497.9 C77.5,497.8 81.2,497.9 85.2,497.2 C89.2,496.5 92.5,495.0 96.2,493.5 C99.9,492.0 103.5,489.8 107.2,488.0 C110.9,486.2 115.2,484.3 118.2,482.5 C121.2,480.7 123.6,477.4 125.4,477.0 C127.2,476.6 127.8,479.4 129.2,480.3 C130.6,481.2 131.8,481.6 133.6,482.5 C135.4,483.4 138.0,484.7 140.2,485.8 C142.4,486.9 144.4,488.2 146.8,489.1 C149.2,490.0 152.7,491.4 154.5,490.9 C156.3,490.3 156.9,486.9 157.8,485.8 C158.7,484.7 159.3,484.1 160.0,484.0 C160.7,483.9 161.1,485.7 161.7,485.4 C162.2,485.1 162.8,482.0 163.3,482.1 C163.8,482.2 164.2,485.0 164.8,485.8 C165.4,486.6 165.9,486.7 166.6,486.9 C167.3,487.1 168.2,486.7 168.8,486.9 C169.5,487.1 169.9,487.4 170.5,488.0 C171.1,488.6 170.2,489.7 172.1,490.6 C174.0,491.5 176.7,492.7 182.0,493.5 C187.3,494.3 196.7,494.8 204.0,495.3 C211.3,495.8 220.0,496.1 226.0,496.4 C232.0,496.7 234.0,497.0 240.0,497.2 C246.0,497.4 255.3,497.5 262.0,497.4 C268.7,497.3 275.8,497.1 280.0,496.8 C284.2,496.5 285.8,496.3 287.4,495.3 C289.0,494.3 288.8,495.2 289.5,491.0 C290.2,486.8 291.0,476.1 291.6,470.0 C292.2,463.9 292.7,458.1 293.2,454.2 C293.7,450.2 294.1,446.5 294.7,446.3 C295.3,446.1 296.1,449.2 296.8,453.2 C297.5,457.1 298.2,465.6 298.9,470.0 C299.6,474.4 300.5,478.6 301.1,479.5 C301.7,480.4 302.1,478.3 302.6,475.3 C303.1,472.3 303.7,465.0 304.2,461.6 C304.7,458.2 305.3,455.1 305.8,454.7 C306.3,454.3 306.8,456.2 307.4,459.5 C308.0,462.8 308.8,470.3 309.5,474.2 C310.2,478.1 310.8,482.2 311.4,482.6 C312.0,483.0 312.5,478.1 313.2,476.3 C313.9,474.5 314.6,472.0 315.3,471.6 C316.0,471.2 316.7,473.7 317.4,474.2 C318.1,474.7 318.7,473.8 319.5,474.7 C320.3,475.6 321.2,478.4 322.1,479.5 C323.0,480.6 323.8,481.3 324.7,481.4 C325.6,481.5 326.5,480.6 327.4,480.0 C328.3,479.4 329.1,478.2 330.0,477.9 C330.9,477.5 331.9,478.5 332.6,477.9 C333.3,477.3 333.7,474.4 334.2,474.2 C334.7,474.0 334.8,475.6 335.8,476.8 C336.8,478.0 338.9,480.2 340.0,481.1 C341.1,482.1 341.2,481.7 342.3,482.5 C343.4,483.3 345.6,486.5 346.7,485.8 C347.8,485.1 348.2,479.9 348.9,478.1 C349.6,476.3 350.4,475.0 351.1,474.8 C351.8,474.6 352.3,478.2 353.3,477.0 C354.3,475.8 355.9,467.8 357.0,467.8 C358.1,467.8 359.0,474.2 359.9,477.0 C360.8,479.8 361.0,482.2 362.1,484.7 C363.2,487.2 365.2,491.3 366.5,492.0 C367.8,492.7 368.7,489.1 369.8,489.1 C370.9,489.1 371.6,492.2 373.1,492.0 C374.6,491.8 377.0,489.4 378.6,488.0 C380.2,486.6 381.6,485.1 383.0,483.6 C384.4,482.1 385.9,480.9 387.3,479.2 C388.8,477.5 390.2,475.7 391.7,473.7 C393.2,471.7 394.6,469.4 396.1,467.1 C397.7,464.8 399.4,461.9 401.0,460.0 C402.6,458.1 404.5,456.8 406.0,456.0 C407.5,455.2 408.7,455.2 410.0,455.5 C411.3,455.8 412.8,457.8 414.0,458.0 C415.2,458.2 416.1,456.5 417.0,457.0 C417.9,457.5 418.8,460.0 419.5,461.0 C420.2,462.0 420.9,463.2 421.5,463.0 C422.1,462.8 422.8,460.5 423.0,460.0" fill="none" stroke="#356dc8" stroke-width="1.45" stroke-linejoin="round" stroke-linecap="round"/>
<path d="M52.2,543.0 C55.5,543.0 66.5,543.1 72.0,543.0 C77.5,542.9 81.2,543.4 85.2,542.1 C89.2,540.8 92.5,537.7 96.2,535.3 C99.9,532.9 103.5,529.7 107.2,527.6 C110.9,525.5 115.2,524.2 118.2,522.7 C121.2,521.2 123.2,518.8 125.4,518.8 C127.6,518.8 129.3,521.2 131.4,522.7 C133.5,524.2 135.4,526.1 138.0,527.6 C140.6,529.1 144.0,530.6 146.8,532.0 C149.7,533.4 153.2,536.4 155.1,535.9 C157.0,535.4 157.3,530.8 158.2,528.7 C159.1,526.6 159.9,524.5 160.6,523.2 C161.3,521.9 161.7,523.0 162.2,521.0 C162.7,519.0 163.1,511.7 163.5,511.5 C163.9,511.3 164.3,517.6 164.8,519.9 C165.3,522.2 166.0,524.0 166.6,525.4 C167.2,526.8 167.8,528.5 168.3,528.0 C168.9,527.5 169.5,523.5 169.9,522.7 C170.3,521.9 170.6,521.3 171.0,523.2 C171.4,525.1 171.2,531.8 172.3,534.2 C173.4,536.6 174.2,536.6 177.6,537.5 C181.0,538.4 186.8,539.1 193.0,539.7 C199.2,540.3 207.2,540.7 215.0,541.2 C222.8,541.7 232.2,542.3 240.0,542.5 C247.8,542.7 254.8,543.0 262.0,542.5 C269.1,542.0 278.5,540.8 282.9,539.7 C287.3,538.6 287.0,539.0 288.4,535.9 C289.8,532.8 290.2,527.1 291.0,521.0 C291.8,514.9 292.5,503.8 293.2,499.0 C293.9,494.2 294.4,492.6 295.0,492.0 C295.6,491.4 296.0,492.3 296.7,495.7 C297.4,499.1 298.6,508.4 299.4,512.2 C300.2,516.1 300.9,519.7 301.6,518.8 C302.3,517.9 303.2,509.6 303.8,506.7 C304.4,503.8 304.9,501.2 305.5,501.2 C306.1,501.2 306.9,502.5 307.7,506.7 C308.5,510.9 309.4,524.5 310.4,526.5 C311.4,528.5 312.7,520.1 313.7,518.8 C314.7,517.5 315.5,520.6 316.5,518.8 C317.5,517.0 318.6,508.8 319.6,508.2 C320.6,507.6 321.5,513.7 322.5,515.5 C323.5,517.3 324.7,519.0 325.8,518.8 C326.9,518.5 328.1,514.4 329.1,514.0 C330.1,513.6 331.0,516.6 331.9,516.6 C332.8,516.6 333.6,513.8 334.6,514.0 C335.6,514.2 336.6,516.0 337.9,517.7 C339.2,519.4 340.8,523.3 342.3,524.3 C343.8,525.3 345.5,526.2 346.7,523.6 C347.9,521.0 348.7,510.4 349.5,508.9 C350.3,507.4 350.9,513.7 351.7,514.4 C352.5,515.1 353.5,515.1 354.4,513.3 C355.3,511.5 356.1,503.4 357.0,503.4 C357.9,503.4 359.2,509.7 359.9,513.3 C360.6,516.9 360.7,522.1 361.4,524.9 C362.1,527.6 363.4,527.9 364.3,529.8 C365.2,531.7 365.6,536.0 366.5,536.4 C367.4,536.8 368.7,531.9 369.8,532.0 C370.9,532.1 371.6,536.8 373.1,536.8 C374.6,536.8 376.6,533.7 378.6,532.0 C380.6,530.3 382.9,528.9 385.1,526.5 C387.3,524.1 389.5,520.6 391.7,517.7 C393.9,514.8 396.6,511.8 398.3,508.9 C400.0,506.0 400.1,501.8 401.6,500.1 C403.1,498.4 405.5,498.7 407.1,498.5 C408.8,498.3 410.0,498.6 411.5,499.0 C413.0,499.4 414.6,500.5 415.9,501.2 C417.2,501.9 418.4,502.3 419.2,503.4 C420.0,504.5 420.2,507.2 420.8,507.8 C421.4,508.4 422.6,506.9 423.0,506.7" fill="none" stroke="#d84b56" stroke-width="1.45" stroke-linejoin="round" stroke-linecap="round"/>
<path d="M52.2,581.5 C55.5,581.3 65.8,580.9 72.0,580.4 C78.2,579.9 85.2,580.0 89.6,578.2 C94.0,576.4 95.1,572.7 98.4,569.4 C101.7,566.1 106.1,561.5 109.4,558.4 C112.7,555.3 115.5,552.7 118.2,550.7 C120.9,548.7 123.2,546.3 125.4,546.3 C127.6,546.3 128.9,548.7 131.4,550.7 C133.9,552.7 137.3,556.0 140.2,558.4 C143.1,560.8 146.4,563.4 149.0,565.0 C151.6,566.6 154.1,569.0 155.6,568.3 C157.1,567.6 157.4,562.6 158.2,560.6 C159.0,558.6 159.9,557.1 160.6,556.2 C161.3,555.3 161.7,557.1 162.2,555.1 C162.7,553.1 163.1,544.7 163.5,544.1 C163.9,543.5 164.3,549.4 164.8,551.8 C165.3,554.2 166.0,556.9 166.6,558.4 C167.2,559.9 167.8,561.0 168.3,560.6 C168.9,560.2 169.5,556.5 169.9,555.7 C170.3,554.9 170.6,553.8 171.0,555.7 C171.4,557.6 171.2,564.6 172.3,567.2 C173.4,569.8 174.2,570.0 177.6,571.1 C181.0,572.2 186.8,572.9 193.0,573.8 C199.2,574.7 207.2,575.4 215.0,576.4 C222.8,577.4 232.2,579.2 240.0,579.9 C247.8,580.6 254.9,580.8 262.0,580.8 C269.1,580.8 278.7,580.6 282.6,580.2 C286.5,579.8 284.4,579.1 285.5,578.3 C286.6,577.5 288.2,576.3 289.0,575.2 C289.8,574.1 289.8,574.1 290.2,571.5 C290.6,568.9 290.9,563.6 291.4,559.3 C291.8,555.0 292.4,548.9 292.9,545.6 C293.4,542.4 293.6,539.5 294.3,539.8 C295.0,540.1 296.3,544.5 297.3,547.6 C298.3,550.7 299.3,555.8 300.2,558.3 C301.1,560.8 301.9,562.8 302.6,562.3 C303.3,561.8 304.1,557.4 304.6,555.4 C305.2,553.4 305.3,549.9 305.9,550.5 C306.5,551.1 307.1,555.9 308.0,559.3 C308.9,562.7 310.5,570.5 311.4,571.0 C312.2,571.5 312.5,564.2 313.1,562.3 C313.7,560.4 314.3,560.0 314.9,559.8 C315.5,559.6 316.2,562.2 316.8,561.3 C317.4,560.4 317.8,556.5 318.3,554.4 C318.8,552.3 319.1,548.3 319.7,548.6 C320.3,548.9 321.4,554.4 322.2,556.4 C323.0,558.4 323.9,560.6 324.7,560.6 C325.5,560.6 326.2,556.4 326.9,556.2 C327.6,556.0 328.4,559.7 329.1,559.5 C329.8,559.3 330.6,555.0 331.3,555.1 C332.0,555.2 332.8,559.9 333.5,560.1 C334.2,560.3 334.9,555.8 335.7,556.2 C336.5,556.7 337.4,560.8 338.5,562.8 C339.6,564.8 340.9,567.6 342.3,568.3 C343.7,569.0 345.5,570.3 346.7,567.2 C347.9,564.1 348.7,551.1 349.5,549.6 C350.3,548.1 350.9,557.3 351.7,558.4 C352.5,559.5 353.5,560.4 354.4,556.2 C355.3,552.0 356.3,534.2 357.2,533.1 C358.1,532.0 359.2,544.3 359.9,549.6 C360.6,554.9 360.6,561.1 361.4,565.0 C362.2,568.9 363.8,570.0 364.9,572.7 C366.0,575.5 367.1,580.8 368.0,581.5 C368.9,582.2 369.3,576.7 370.2,577.1 C371.1,577.5 371.9,583.5 373.1,583.7 C374.3,583.9 375.9,579.5 377.5,578.2 C379.1,576.9 381.0,577.5 383.0,576.0 C385.0,574.5 387.7,571.6 389.5,569.4 C391.3,567.2 392.5,565.4 394.0,562.8 C395.5,560.2 397.0,556.6 398.3,554.0 C399.6,551.4 400.0,548.4 401.6,546.9 C403.2,545.4 406.2,544.6 408.2,544.7 C410.2,544.8 412.0,546.4 413.7,547.4 C415.4,548.4 417.0,549.2 418.1,550.7 C419.2,552.2 419.5,555.2 420.3,556.2 C421.1,557.2 422.6,556.5 423.0,556.6" fill="none" stroke="#3d3d3d" stroke-width="1.45" stroke-linejoin="round" stroke-linecap="round"/>
<rect x="74.2" y="345.5" width="15.4" height="22.4" fill="#c0c0c0"/>
<text x="81.9" y="362.3" font-size="16" fill="#111" stroke="#111" stroke-width="0.25" text-anchor="middle">C</text>
<text x="61" y="394.3" font-size="16" fill="#a47fdc" text-anchor="start">LA</text>
<text x="61" y="450.4" font-size="16" fill="#3f9f70" text-anchor="start">L1/30</text>
<text x="61" y="494.6" font-size="16" fill="#3e70c8" text-anchor="start">L1/20</text>
<text x="61" y="539.7" font-size="16" fill="#d9545e" text-anchor="start">L1/15</text>
<text x="61" y="580.8" font-size="16" fill="#555555" text-anchor="start">L1/10</text>
<text x="131.6" y="585.9" font-size="14" fill="#111" stroke="#111" stroke-width="0.25" text-anchor="start">3286</text>
<text x="233.2" y="361.6" font-size="16" fill="#111" stroke="#111" stroke-width="0.25" text-anchor="start">1700</text>
<line x1="274.01" y1="355.05" x2="286.20" y2="357.40" stroke="#222" stroke-width="0.9"/>
<polygon points="269.10,354.10 273.59,357.21 274.43,352.89" fill="#111"/>
<text x="251.2" y="572.0" font-size="14" fill="#e03c3c" stroke="#e03c3c" stroke-width="0.25" text-anchor="start">1647</text>
<text x="309.0" y="589.2" font-size="14" fill="#2b2bc4" stroke="#2b2bc4" stroke-width="0.25" text-anchor="start">1540</text>
<line x1="281.92" y1="576.75" x2="294.40" y2="587.80" stroke="#222" stroke-width="0.9"/>
<polygon points="277.80,573.10 280.46,578.39 283.38,575.10" fill="#111"/>
<rect x="51.7" y="340.1" width="371.70" height="259.00" fill="none" stroke="#1c1c1c" stroke-width="1.5"/>
<line x1="51.70" y1="599.1" x2="51.70" y2="604.1" stroke="#1c1c1c" stroke-width="1.4"/>
<text x="51.70" y="620.7" font-size="16.5" fill="#111" stroke="#111" stroke-width="0.25" text-anchor="middle">4000</text>
<line x1="77.53" y1="599.1" x2="77.53" y2="601.9" stroke="#1c1c1c" stroke-width="1.4"/>
<line x1="103.35" y1="599.1" x2="103.35" y2="604.1" stroke="#1c1c1c" stroke-width="1.4"/>
<text x="103.35" y="620.7" font-size="16.5" fill="#111" stroke="#111" stroke-width="0.25" text-anchor="middle">3500</text>
<line x1="129.18" y1="599.1" x2="129.18" y2="601.9" stroke="#1c1c1c" stroke-width="1.4"/>
<line x1="155.00" y1="599.1" x2="155.00" y2="604.1" stroke="#1c1c1c" stroke-width="1.4"/>
<text x="155.00" y="620.7" font-size="16.5" fill="#111" stroke="#111" stroke-width="0.25" text-anchor="middle">3000</text>
<line x1="180.82" y1="599.1" x2="180.82" y2="601.9" stroke="#1c1c1c" stroke-width="1.4"/>
<line x1="206.65" y1="599.1" x2="206.65" y2="604.1" stroke="#1c1c1c" stroke-width="1.4"/>
<text x="206.65" y="620.7" font-size="16.5" fill="#111" stroke="#111" stroke-width="0.25" text-anchor="middle">2500</text>
<line x1="232.48" y1="599.1" x2="232.48" y2="601.9" stroke="#1c1c1c" stroke-width="1.4"/>
<line x1="258.30" y1="599.1" x2="258.30" y2="604.1" stroke="#1c1c1c" stroke-width="1.4"/>
<text x="258.30" y="620.7" font-size="16.5" fill="#111" stroke="#111" stroke-width="0.25" text-anchor="middle">2000</text>
<line x1="284.12" y1="599.1" x2="284.12" y2="601.9" stroke="#1c1c1c" stroke-width="1.4"/>
<line x1="309.95" y1="599.1" x2="309.95" y2="604.1" stroke="#1c1c1c" stroke-width="1.4"/>
<text x="309.95" y="620.7" font-size="16.5" fill="#111" stroke="#111" stroke-width="0.25" text-anchor="middle">1500</text>
<line x1="335.77" y1="599.1" x2="335.77" y2="601.9" stroke="#1c1c1c" stroke-width="1.4"/>
<line x1="361.60" y1="599.1" x2="361.60" y2="604.1" stroke="#1c1c1c" stroke-width="1.4"/>
<text x="361.60" y="620.7" font-size="16.5" fill="#111" stroke="#111" stroke-width="0.25" text-anchor="middle">1000</text>
<line x1="387.43" y1="599.1" x2="387.43" y2="601.9" stroke="#1c1c1c" stroke-width="1.4"/>
<line x1="413.25" y1="599.1" x2="413.25" y2="604.1" stroke="#1c1c1c" stroke-width="1.4"/>
<text x="413.25" y="620.7" font-size="16.5" fill="#111" stroke="#111" stroke-width="0.25" text-anchor="middle">500</text>
<text x="237.5" y="647.7" font-size="17.6" fill="#111" stroke="#111" stroke-width="0.25" text-anchor="middle">Wavenumber (cm<tspan font-size="11" dy="-7">-1</tspan><tspan dy="7">)</tspan></text>
<text x="0" y="0" transform="translate(39.3,469.6) rotate(-90)" font-size="17.6" fill="#111" stroke="#111" stroke-width="0.25" text-anchor="middle">Absorbance (a.u.)</text>
<line x1="423.4" y1="413.0" x2="423.4" y2="460.0" stroke="#379b69" stroke-width="1.5"/>
<line x1="423.4" y1="460.0" x2="423.4" y2="506.7" stroke="#356dc8" stroke-width="1.5"/>
<line x1="423.4" y1="506.7" x2="423.4" y2="556.6" stroke="#d84b56" stroke-width="1.5"/>
<line x1="710.4" y1="340.5" x2="710.4" y2="598.5" stroke="#cf7d86" stroke-width="1.0" stroke-dasharray="3.5,1.3,0.9,2.3" opacity="1.0"/>
<line x1="721.5" y1="340.5" x2="721.5" y2="598.5" stroke="#8e92dc" stroke-width="0.9" stroke-dasharray="3,1.5,1,1.5" opacity="1.0"/>
<path d="M467.4,414.7 C470.7,414.8 480.1,415.0 487.0,415.2 C493.9,415.4 501.7,415.4 509.0,415.6 C516.3,415.8 525.1,416.3 531.0,416.3 C536.9,416.3 539.8,416.1 544.2,415.6 C548.6,415.1 553.4,414.0 557.4,413.4 C561.4,412.8 565.8,412.3 568.4,411.9 C571.0,411.5 571.8,412.5 572.8,411.2 C573.8,409.9 573.8,405.1 574.3,404.2 C574.8,403.3 575.1,406.6 575.6,405.9 C576.1,405.2 576.7,406.5 577.2,399.8 C577.8,393.1 578.4,367.5 578.9,365.7 C579.4,363.9 579.9,382.8 580.5,388.8 C581.1,394.9 582.1,399.6 582.7,402.0 C583.3,404.4 583.7,408.1 584.2,403.1 C584.8,398.2 585.5,373.2 586.0,372.3 C586.5,371.4 587.0,391.9 587.5,397.6 C588.0,403.3 588.1,404.3 589.3,406.4 C590.5,408.5 592.4,409.6 594.8,410.3 C597.2,411.0 600.3,410.0 603.6,410.3 C606.9,410.6 610.6,411.3 614.6,411.9 C618.6,412.5 623.3,413.6 627.7,414.1 C632.1,414.7 636.5,414.9 641.0,415.2 C645.5,415.4 649.0,415.5 655.0,415.6 C661.0,415.7 670.0,415.8 677.0,415.6 C684.0,415.4 692.8,414.9 696.8,414.5 C700.8,414.1 700.2,415.8 701.2,413.0 C702.2,410.2 702.5,402.7 703.0,397.6 C703.5,392.5 703.9,385.6 704.3,382.2 C704.7,378.8 705.0,377.1 705.4,377.3 C705.8,377.5 706.3,379.2 706.7,383.3 C707.1,387.4 707.5,397.2 708.0,402.0 C708.5,406.8 708.9,409.9 710.0,411.9 C711.1,413.9 712.6,413.6 714.4,414.1 C716.2,414.6 718.9,414.7 721.0,414.7 C723.1,414.7 725.9,416.6 727.1,414.1 C728.3,411.6 727.8,401.1 728.2,399.8 C728.7,398.5 729.2,405.7 729.8,406.4 C730.3,407.1 731.0,404.2 731.5,404.2 C732.0,404.2 732.6,406.1 733.1,406.4 C733.6,406.7 734.1,404.9 734.6,406.0 C735.1,407.1 735.5,412.0 736.4,413.0 C737.2,414.0 738.8,412.4 739.7,411.9 C740.6,411.3 741.3,409.9 741.9,409.7 C742.5,409.5 743.0,412.1 743.4,410.8 C743.8,409.5 744.1,403.8 744.5,402.0 C744.9,400.2 745.4,400.5 745.8,399.8 C746.2,399.1 746.4,397.4 746.7,398.0 C747.0,398.6 747.4,402.4 747.8,403.1 C748.2,403.8 748.7,401.4 749.1,402.0 C749.5,402.6 750.0,406.2 750.4,406.4 C750.8,406.6 751.3,402.7 751.8,403.1 C752.2,403.5 752.7,408.4 753.1,408.6 C753.5,408.9 754.0,404.4 754.4,404.6 C754.8,404.8 755.3,409.4 755.7,409.7 C756.1,410.0 756.5,406.0 757.0,406.4 C757.5,406.8 757.4,410.6 758.4,411.9 C759.4,413.2 761.5,413.9 762.8,414.1 C764.1,414.4 765.4,413.8 766.1,413.4 C766.8,413.0 766.8,411.7 767.2,411.9 C767.6,412.1 767.0,414.2 768.3,414.7 C769.6,415.2 773.1,415.7 774.9,414.7 C776.7,413.7 778.0,411.1 779.3,408.6 C780.6,406.1 781.6,400.0 782.6,399.8 C783.6,399.6 784.1,405.7 785.2,407.5 C786.3,409.3 787.8,409.8 789.2,410.8 C790.6,411.8 792.1,412.8 793.6,413.4 C795.1,414.0 796.9,414.8 798.0,414.7 C799.1,414.6 799.5,413.0 800.2,413.0 C800.9,413.0 801.6,415.4 802.3,414.7 C803.0,414.0 803.9,411.1 804.5,408.6 C805.1,406.1 805.4,399.6 805.9,399.8 C806.4,400.0 806.7,408.4 807.2,409.7 C807.7,411.0 808.3,407.1 809.0,407.5 C809.7,407.9 810.1,410.6 811.6,411.9 C813.1,413.2 816.0,415.0 817.7,415.2 C819.5,415.4 821.1,413.9 822.1,413.0 C823.1,412.1 823.2,409.4 823.9,409.7 C824.6,410.0 825.3,414.3 826.1,414.7 C826.9,415.1 827.9,411.8 828.7,411.9 C829.5,412.0 830.1,415.2 831.0,415.2 C831.9,415.2 833.4,411.7 834.2,411.9 C835.0,412.1 835.2,415.4 835.8,416.3 C836.4,417.2 837.6,417.2 838.0,417.4" fill="none" stroke="#379b69" stroke-width="1.45" stroke-linejoin="round" stroke-linecap="round"/>
<path d="M467.4,487.4 C471.0,487.4 483.4,487.6 489.0,487.4 C494.6,487.2 497.1,487.3 501.1,486.4 C505.1,485.5 509.1,484.2 513.1,482.1 C517.1,480.0 521.5,476.2 525.1,473.7 C528.7,471.2 532.0,468.7 534.7,466.9 C537.4,465.1 539.5,462.9 541.5,462.8 C543.5,462.7 544.3,464.7 546.8,466.5 C549.3,468.3 553.6,471.9 556.4,473.7 C559.2,475.5 561.3,476.3 563.6,477.3 C565.9,478.3 568.5,480.1 570.1,479.7 C571.7,479.3 572.2,475.9 573.2,474.9 C574.2,473.9 575.2,474.8 576.1,473.7 C577.0,472.6 577.8,468.2 578.5,468.4 C579.2,468.6 579.6,473.7 580.4,474.9 C581.2,476.1 582.5,475.7 583.3,475.6 C584.1,475.5 584.6,473.7 585.3,474.4 C585.9,475.1 586.0,478.4 587.2,479.7 C588.4,481.0 588.8,481.3 592.5,482.1 C596.2,482.9 602.5,483.9 609.3,484.5 C616.1,485.1 625.8,485.3 633.4,485.7 C641.0,486.1 647.4,486.6 655.0,486.9 C662.6,487.2 671.4,487.5 679.0,487.4 C686.6,487.3 696.5,486.9 700.7,486.2 C704.9,485.5 703.3,487.0 704.3,483.3 C705.3,479.6 706.0,470.0 706.7,464.0 C707.4,458.0 707.8,451.8 708.4,447.2 C709.0,442.6 709.7,436.1 710.4,436.1 C711.1,436.1 711.9,442.9 712.7,447.2 C713.5,451.4 714.3,458.1 715.1,461.6 C715.9,465.1 716.7,469.6 717.5,468.4 C718.3,467.2 719.2,458.3 719.9,454.4 C720.5,450.5 720.8,445.7 721.4,444.9 C722.0,444.1 722.6,445.2 723.5,449.6 C724.4,454.0 725.7,469.1 726.7,471.3 C727.7,473.5 728.7,464.4 729.6,462.8 C730.5,461.2 731.4,461.4 732.4,461.6 C733.4,461.8 734.5,462.6 735.6,464.0 C736.7,465.4 737.8,469.4 739.2,470.1 C740.6,470.8 742.4,468.9 744.0,468.4 C745.6,467.9 747.4,466.9 748.8,466.9 C750.2,466.9 751.2,467.5 752.4,468.4 C753.6,469.3 754.5,471.1 756.0,472.5 C757.5,473.9 760.1,477.7 761.5,476.6 C762.9,475.5 763.5,467.4 764.4,466.0 C765.3,464.6 765.9,469.3 766.8,468.4 C767.7,467.5 769.1,462.5 770.0,460.4 C770.9,458.3 771.6,454.6 772.4,455.6 C773.2,456.6 773.9,463.5 774.8,466.5 C775.7,469.5 776.6,471.4 777.7,473.7 C778.8,476.0 780.1,479.7 781.3,480.4 C782.5,481.1 783.7,477.9 784.9,478.0 C786.1,478.1 786.9,481.0 788.5,480.9 C790.1,480.8 792.3,479.1 794.5,477.3 C796.7,475.5 799.3,473.5 801.7,470.1 C804.1,466.7 806.5,460.2 808.9,456.8 C811.3,453.4 813.7,451.7 816.1,449.6 C818.5,447.5 821.2,445.0 823.4,444.3 C825.6,443.6 827.6,444.9 829.4,445.3 C831.2,445.7 833.0,445.8 834.2,446.7 C835.4,447.6 835.9,450.2 836.6,450.8 C837.3,451.4 838.3,450.2 838.6,450.1" fill="none" stroke="#356dc8" stroke-width="1.45" stroke-linejoin="round" stroke-linecap="round"/>
<path d="M467.4,534.5 C471.0,534.5 483.4,534.7 489.0,534.5 C494.6,534.3 497.1,534.4 501.1,533.3 C505.1,532.2 509.1,530.7 513.1,527.8 C517.1,524.9 521.5,519.4 525.1,515.8 C528.7,512.2 532.0,508.5 534.7,506.1 C537.4,503.7 539.3,501.1 541.5,501.3 C543.7,501.5 545.5,504.9 548.0,507.3 C550.5,509.7 553.8,513.4 556.4,515.8 C559.0,518.2 561.3,520.3 563.6,521.8 C565.9,523.3 568.5,525.3 570.1,524.9 C571.7,524.5 572.2,520.6 573.2,519.4 C574.2,518.1 575.2,519.1 576.1,517.4 C577.0,515.7 577.8,508.9 578.5,509.0 C579.2,509.1 579.6,516.6 580.4,518.2 C581.2,519.9 582.5,519.1 583.3,518.9 C584.1,518.7 584.6,516.3 585.3,517.0 C585.9,517.7 586.0,521.2 587.2,523.0 C588.4,524.8 588.8,526.5 592.5,527.8 C596.2,529.1 602.5,530.1 609.3,530.9 C616.1,531.7 625.8,532.1 633.4,532.6 C641.0,533.1 647.4,533.6 655.0,533.8 C662.6,534.0 671.4,534.0 679.0,533.8 C686.6,533.6 696.5,533.4 700.7,532.6 C704.9,531.8 703.3,532.8 704.3,529.0 C705.3,525.2 705.9,515.5 706.7,509.7 C707.5,503.9 708.3,497.4 708.9,494.1 C709.5,490.8 709.7,489.8 710.3,490.0 C710.9,490.2 711.9,492.4 712.7,495.3 C713.5,498.2 714.2,504.7 715.1,507.3 C716.0,509.9 717.1,512.5 718.0,510.9 C718.9,509.3 719.8,500.0 720.4,497.7 C721.0,495.4 721.2,496.2 721.9,497.2 C722.5,498.2 723.5,500.4 724.3,503.7 C725.1,507.0 725.8,516.2 726.7,517.0 C727.6,517.8 728.7,510.0 729.6,508.5 C730.5,507.0 731.2,508.6 732.0,507.8 C732.8,507.0 733.4,503.1 734.4,503.7 C735.4,504.3 736.6,510.2 738.0,511.7 C739.4,513.2 741.0,512.5 742.8,512.6 C744.6,512.7 747.2,512.1 748.8,512.2 C750.4,512.3 751.2,512.6 752.4,513.4 C753.6,514.2 754.5,515.8 756.0,517.0 C757.5,518.2 760.1,522.6 761.5,520.6 C762.9,518.6 763.5,506.9 764.4,504.9 C765.3,502.9 765.9,509.3 766.8,508.5 C767.7,507.7 769.1,503.3 770.0,500.1 C770.9,496.9 771.6,488.5 772.4,489.3 C773.2,490.1 773.9,501.1 774.8,504.9 C775.7,508.7 776.6,508.8 777.7,512.2 C778.8,515.6 780.1,524.2 781.3,525.4 C782.5,526.6 783.7,519.4 784.9,519.4 C786.1,519.4 787.1,525.4 788.5,525.4 C789.9,525.4 791.3,521.6 793.3,519.4 C795.3,517.2 798.1,515.4 800.5,512.2 C802.9,509.0 805.3,503.7 807.7,500.1 C810.1,496.5 812.3,493.3 814.9,490.5 C817.5,487.7 821.0,484.3 823.4,483.3 C825.8,482.3 827.6,483.9 829.4,484.5 C831.2,485.1 833.0,485.9 834.2,486.9 C835.4,487.9 835.9,490.1 836.6,490.5 C837.3,490.9 838.3,489.5 838.6,489.3" fill="none" stroke="#d84b56" stroke-width="1.45" stroke-linejoin="round" stroke-linecap="round"/>
<path d="M467.4,584.3 C471.0,584.3 483.4,584.5 489.0,584.3 C494.6,584.1 497.1,584.7 501.1,583.1 C505.1,581.5 509.1,577.9 513.1,574.7 C517.1,571.5 521.5,566.9 525.1,563.9 C528.7,560.9 532.0,558.6 534.7,556.6 C537.4,554.6 539.3,551.6 541.5,551.8 C543.7,552.0 545.5,555.2 548.0,557.8 C550.5,560.4 553.8,565.1 556.4,567.5 C559.0,569.9 561.3,570.9 563.6,572.3 C565.9,573.7 568.5,576.3 570.1,575.9 C571.7,575.5 572.2,571.1 573.2,569.9 C574.2,568.7 575.2,569.4 576.1,568.7 C577.0,568.0 577.8,565.1 578.5,565.5 C579.2,565.9 579.6,570.2 580.4,571.1 C581.2,572.0 582.5,571.1 583.3,571.1 C584.1,571.1 584.6,570.2 585.3,571.1 C586.0,572.0 586.1,575.2 587.7,576.6 C589.3,578.0 591.3,578.7 594.9,579.5 C598.5,580.3 602.9,580.9 609.3,581.4 C615.7,581.9 625.8,582.2 633.4,582.6 C641.0,583.0 647.2,583.3 655.0,583.6 C662.8,583.9 673.0,584.2 680.0,584.2 C687.0,584.2 693.1,584.1 696.9,583.7 C700.7,583.3 701.3,582.9 702.6,582.0 C703.9,581.1 704.1,581.4 704.8,578.6 C705.4,575.8 705.9,570.6 706.5,565.1 C707.1,559.6 707.6,551.2 708.2,545.9 C708.8,540.6 709.2,534.4 709.9,533.5 C710.5,532.6 711.4,536.5 712.1,540.3 C712.9,544.1 713.5,552.1 714.4,556.1 C715.2,560.1 716.4,564.6 717.2,564.0 C718.1,563.4 718.8,556.3 719.5,552.7 C720.2,549.1 720.9,543.2 721.5,542.6 C722.1,542.0 722.8,546.3 723.4,549.3 C724.0,552.3 724.5,557.4 725.1,560.6 C725.7,563.8 726.4,568.3 727.1,568.5 C727.8,568.7 728.5,563.4 729.1,561.7 C729.7,560.0 730.2,558.8 730.8,558.3 C731.3,557.8 731.8,559.1 732.4,558.9 C733.0,558.7 733.4,556.9 734.1,557.2 C734.8,557.5 735.5,559.4 736.4,560.6 C737.3,561.8 738.5,564.2 739.8,564.5 C741.1,564.8 742.5,562.3 744.0,562.2 C745.5,562.1 747.4,563.6 748.8,563.9 C750.2,564.2 751.2,563.1 752.4,563.9 C753.6,564.7 754.5,567.4 756.0,568.7 C757.5,570.0 760.1,573.4 761.5,571.8 C762.9,570.2 763.5,560.5 764.4,559.0 C765.3,557.5 765.9,563.3 766.8,562.7 C767.7,562.1 769.1,558.3 770.0,555.4 C770.9,552.5 771.6,544.9 772.4,545.3 C773.2,545.7 773.9,554.3 774.8,557.8 C775.7,561.3 776.6,563.3 777.7,566.3 C778.8,569.3 780.1,575.1 781.3,575.9 C782.5,576.7 783.7,571.1 784.9,571.1 C786.1,571.1 786.9,575.9 788.5,575.9 C790.1,575.9 792.3,573.3 794.5,571.1 C796.7,568.9 799.3,566.5 801.7,562.7 C804.1,558.9 806.5,552.2 808.9,548.2 C811.3,544.2 813.7,541.0 816.1,538.6 C818.5,536.2 821.2,534.5 823.4,533.8 C825.6,533.1 827.6,533.9 829.4,534.3 C831.2,534.7 833.0,535.1 834.2,536.2 C835.4,537.3 835.9,541.0 836.6,541.0 C837.3,541.0 838.3,537.0 838.6,536.2" fill="none" stroke="#3d3d3d" stroke-width="1.45" stroke-linejoin="round" stroke-linecap="round"/>
<rect x="493.4" y="346.6" width="15.8" height="22.0" fill="#c0c0c0"/>
<text x="501.3" y="363.2" font-size="16" fill="#111" stroke="#111" stroke-width="0.25" text-anchor="middle">D</text>
<text x="476" y="414.1" font-size="16" fill="#3f9f70" text-anchor="start">PA</text>
<text x="475.8" y="484.0" font-size="16" fill="#3e70c8" text-anchor="start">P1/30</text>
<text x="475.8" y="531.4" font-size="16" fill="#d9545e" text-anchor="start">P1/20</text>
<text x="475.8" y="580.7" font-size="16" fill="#555555" text-anchor="start">P1/15</text>
<text x="529.6" y="458.5" font-size="14" fill="#111" stroke="#111" stroke-width="0.25" text-anchor="start">3286</text>
<text x="530.2" y="498.4" font-size="14" fill="#111" stroke="#111" stroke-width="0.25" text-anchor="start">3284</text>
<text x="531.9" y="550.1" font-size="14" fill="#111" stroke="#111" stroke-width="0.25" text-anchor="start">3284</text>
<text x="664.0" y="377.9" font-size="13.3" fill="#111" stroke="#111" stroke-width="0.25" text-anchor="start">1697</text>
<line x1="698.81" y1="375.48" x2="702.00" y2="376.80" stroke="#222" stroke-width="0.9"/>
<polygon points="692.80,373.00 698.12,377.15 699.49,373.82" fill="#111"/>
<text x="668.2" y="572.8" font-size="14" fill="#e03c3c" stroke="#e03c3c" stroke-width="0.25" text-anchor="start">1647</text>
<text x="726.3" y="591.5" font-size="14" fill="#2b2bc4" stroke="#2b2bc4" stroke-width="0.25" text-anchor="start">1540</text>
<line x1="696.52" y1="576.75" x2="707.40" y2="586.40" stroke="#222" stroke-width="0.9"/>
<polygon points="692.40,573.10 695.06,578.40 697.97,575.10" fill="#111"/>
<rect x="467.4" y="340.1" width="371.40" height="259.00" fill="none" stroke="#1c1c1c" stroke-width="1.5"/>
<line x1="467.40" y1="599.1" x2="467.40" y2="604.1" stroke="#1c1c1c" stroke-width="1.4"/>
<text x="467.40" y="620.7" font-size="16.5" fill="#111" stroke="#111" stroke-width="0.25" text-anchor="middle">4000</text>
<line x1="493.22" y1="599.1" x2="493.22" y2="601.9" stroke="#1c1c1c" stroke-width="1.4"/>
<line x1="519.05" y1="599.1" x2="519.05" y2="604.1" stroke="#1c1c1c" stroke-width="1.4"/>
<text x="519.05" y="620.7" font-size="16.5" fill="#111" stroke="#111" stroke-width="0.25" text-anchor="middle">3500</text>
<line x1="544.88" y1="599.1" x2="544.88" y2="601.9" stroke="#1c1c1c" stroke-width="1.4"/>
<line x1="570.70" y1="599.1" x2="570.70" y2="604.1" stroke="#1c1c1c" stroke-width="1.4"/>
<text x="570.70" y="620.7" font-size="16.5" fill="#111" stroke="#111" stroke-width="0.25" text-anchor="middle">3000</text>
<line x1="596.52" y1="599.1" x2="596.52" y2="601.9" stroke="#1c1c1c" stroke-width="1.4"/>
<line x1="622.35" y1="599.1" x2="622.35" y2="604.1" stroke="#1c1c1c" stroke-width="1.4"/>
<text x="622.35" y="620.7" font-size="16.5" fill="#111" stroke="#111" stroke-width="0.25" text-anchor="middle">2500</text>
<line x1="648.17" y1="599.1" x2="648.17" y2="601.9" stroke="#1c1c1c" stroke-width="1.4"/>
<line x1="674.00" y1="599.1" x2="674.00" y2="604.1" stroke="#1c1c1c" stroke-width="1.4"/>
<text x="674.00" y="620.7" font-size="16.5" fill="#111" stroke="#111" stroke-width="0.25" text-anchor="middle">2000</text>
<line x1="699.83" y1="599.1" x2="699.83" y2="601.9" stroke="#1c1c1c" stroke-width="1.4"/>
<line x1="725.65" y1="599.1" x2="725.65" y2="604.1" stroke="#1c1c1c" stroke-width="1.4"/>
<text x="725.65" y="620.7" font-size="16.5" fill="#111" stroke="#111" stroke-width="0.25" text-anchor="middle">1500</text>
<line x1="751.47" y1="599.1" x2="751.47" y2="601.9" stroke="#1c1c1c" stroke-width="1.4"/>
<line x1="777.30" y1="599.1" x2="777.30" y2="604.1" stroke="#1c1c1c" stroke-width="1.4"/>
<text x="777.30" y="620.7" font-size="16.5" fill="#111" stroke="#111" stroke-width="0.25" text-anchor="middle">1000</text>
<line x1="803.12" y1="599.1" x2="803.12" y2="601.9" stroke="#1c1c1c" stroke-width="1.4"/>
<line x1="828.95" y1="599.1" x2="828.95" y2="604.1" stroke="#1c1c1c" stroke-width="1.4"/>
<text x="828.95" y="620.7" font-size="16.5" fill="#111" stroke="#111" stroke-width="0.25" text-anchor="middle">500</text>
<text x="653.1" y="647.7" font-size="17.6" fill="#111" stroke="#111" stroke-width="0.25" text-anchor="middle">Wavenumber (cm<tspan font-size="11" dy="-7">-1</tspan><tspan dy="7">)</tspan></text>
<text x="0" y="0" transform="translate(455.0,469.6) rotate(-90)" font-size="17.6" fill="#111" stroke="#111" stroke-width="0.25" text-anchor="middle">Absorbance (a.u.)</text>
<line x1="838.8" y1="450.1" x2="838.8" y2="489.3" stroke="#356dc8" stroke-width="1.5"/>
<line x1="838.8" y1="489.3" x2="838.8" y2="536.2" stroke="#d84b56" stroke-width="1.5"/>
</svg></body></html>
